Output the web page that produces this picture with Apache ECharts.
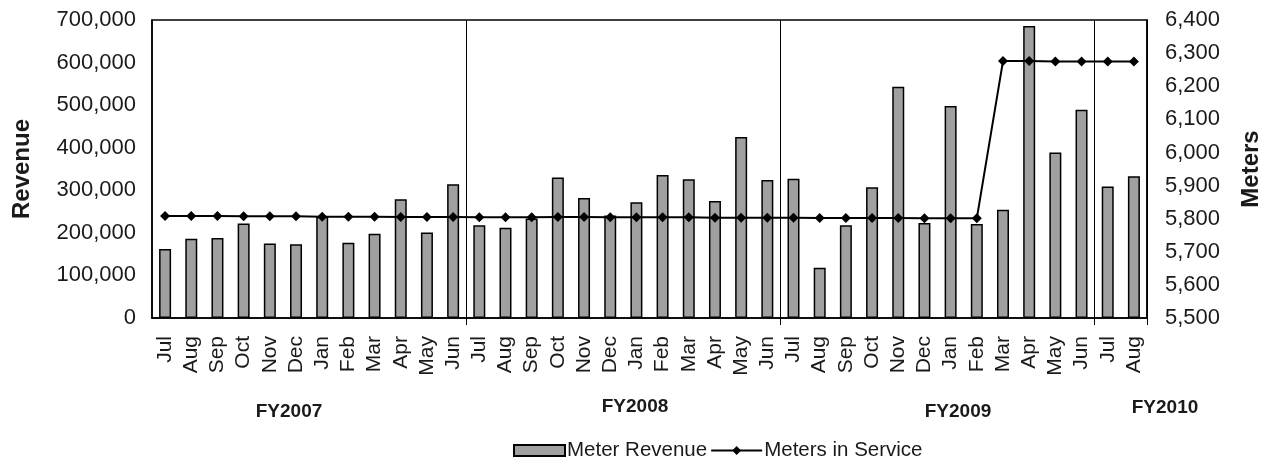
<!DOCTYPE html>
<html>
<head>
<meta charset="utf-8">
<script src="https://cdn.jsdelivr.net/npm/echarts@6/dist/echarts.min.js"></script>
<style>
html,body{margin:0;padding:0;background:#fff;overflow:hidden;}
#chart{width:1271px;height:466px;}
</style>
</head>
<body>
<div id="chart"></div>
<script>
var months = ['Jul','Aug','Sep','Oct','Nov','Dec','Jan','Feb','Mar','Apr','May','Jun',
              'Jul','Aug','Sep','Oct','Nov','Dec','Jan','Feb','Mar','Apr','May','Jun',
              'Jul','Aug','Sep','Oct','Nov','Dec','Jan','Feb','Mar','Apr','May','Jun',
              'Jul','Aug'];
var meterRevenue = [162000,186000,188000,222000,175000,173000,238000,177000,198000,279000,201000,314000,
                    218000,212000,234000,330000,282000,241000,272000,336000,326000,275000,425000,324000,
                    327000,118000,218000,307000,543000,223000,498000,221000,254000,686000,389000,489000,
                    309000,333000];
var metersInService = [5808,5808,5808,5807,5807,5807,5806,5806,5806,5805,5805,5805,
                       5804,5804,5804,5805,5805,5804,5804,5804,5804,5803,5803,5803,
                       5803,5802,5802,5802,5802,5801,5801,5801,6276,6276,6275,6275,
                       6275,6275];
var fyLabels = ['FY2007','FY2008','FY2009','FY2010'];
var fyBoundaries = [12,24,36];
var revenueTicks = {min:0, max:700000, interval:100000};
var meterTicks = {min:5500, max:6400, interval:100};

function fmt(v){ return String(v).replace(/\B(?=(\d{3})+(?!\d))/g, ','); }

var FONT = 'Liberation Sans, Arial, sans-serif';
var fyPos = [[289,412],[635,407],[958,412],[1165,408]];
var chart = echarts.init(document.getElementById('chart'), null, {width:1271, height:466});
chart.setOption({
  backgroundColor:'#fff',
  animation:false,
  grid:{left:152,right:111,top:20,bottom:148,show:true,borderColor:'#000',borderWidth:1.5,backgroundColor:'transparent'},
  legend:{
    left:508, top:435, itemWidth:51, itemHeight:11, itemGap:3,
    textStyle:{fontFamily:FONT,fontSize:20.5,color:'#1a1a1a',padding:[0,0,0,-3]},
    data:[{name:'Meter Revenue',icon:'rect'},{name:'Meters in Service'}]
  },
  xAxis:{
    type:'category', data:months, boundaryGap:true,
    axisLine:{lineStyle:{color:'#000',width:1.5}},
    axisTick:{show:true,length:7,interval:function(i){return fyBoundaries.indexOf(i)>=0;},lineStyle:{color:'#000',width:1}},
    axisLabel:{interval:0,rotate:90,margin:18,fontFamily:FONT,fontSize:21,color:'#1a1a1a'},
    splitLine:{show:true,interval:function(i){return fyBoundaries.indexOf(i)>=0;},lineStyle:{color:'#000',width:1}}
  },
  yAxis:[{
    type:'value', min:revenueTicks.min, max:revenueTicks.max, interval:revenueTicks.interval,
    name:'Revenue', nameLocation:'middle', nameRotate:90, nameGap:118,
    nameTextStyle:{fontFamily:FONT,fontSize:24,fontWeight:'bold',color:'#1a1a1a'},
    axisLine:{show:true,lineStyle:{color:'#000',width:1.5}},
    axisTick:{show:false},
    axisLabel:{margin:16,fontFamily:FONT,fontSize:22,color:'#1a1a1a',formatter:fmt},
    splitLine:{show:false}
  },{
    type:'value', min:meterTicks.min, max:meterTicks.max, interval:meterTicks.interval,
    name:'Meters', nameLocation:'middle', nameRotate:90, nameGap:92,
    nameTextStyle:{fontFamily:FONT,fontSize:24,fontWeight:'bold',color:'#1a1a1a'},
    axisLine:{show:true,lineStyle:{color:'#000',width:1.5}},
    axisTick:{show:false},
    axisLabel:{margin:18,fontFamily:FONT,fontSize:22,color:'#1a1a1a',formatter:fmt},
    splitLine:{show:false}
  }],
  series:[{
    name:'Meter Revenue', type:'bar', yAxisIndex:0, data:meterRevenue, barWidth:12,
    itemStyle:{color:'#a0a0a0',borderColor:'#000',borderWidth:1.5}
  },{
    name:'Meters in Service', type:'line', yAxisIndex:1, data:metersInService,
    symbol:'diamond', symbolSize:10, showSymbol:true,
    lineStyle:{color:'#000',width:2}, itemStyle:{color:'#000'}
  }],
  graphic: fyLabels.map(function(t,i){
    return {type:'text', x:fyPos[i][0], y:fyPos[i][1],
      style:{text:t, textAlign:'center', textVerticalAlign:'middle', font:'bold 19px Liberation Sans, Arial, sans-serif', fill:'#1a1a1a'}};
  })
});
</script>
</body>
</html>
